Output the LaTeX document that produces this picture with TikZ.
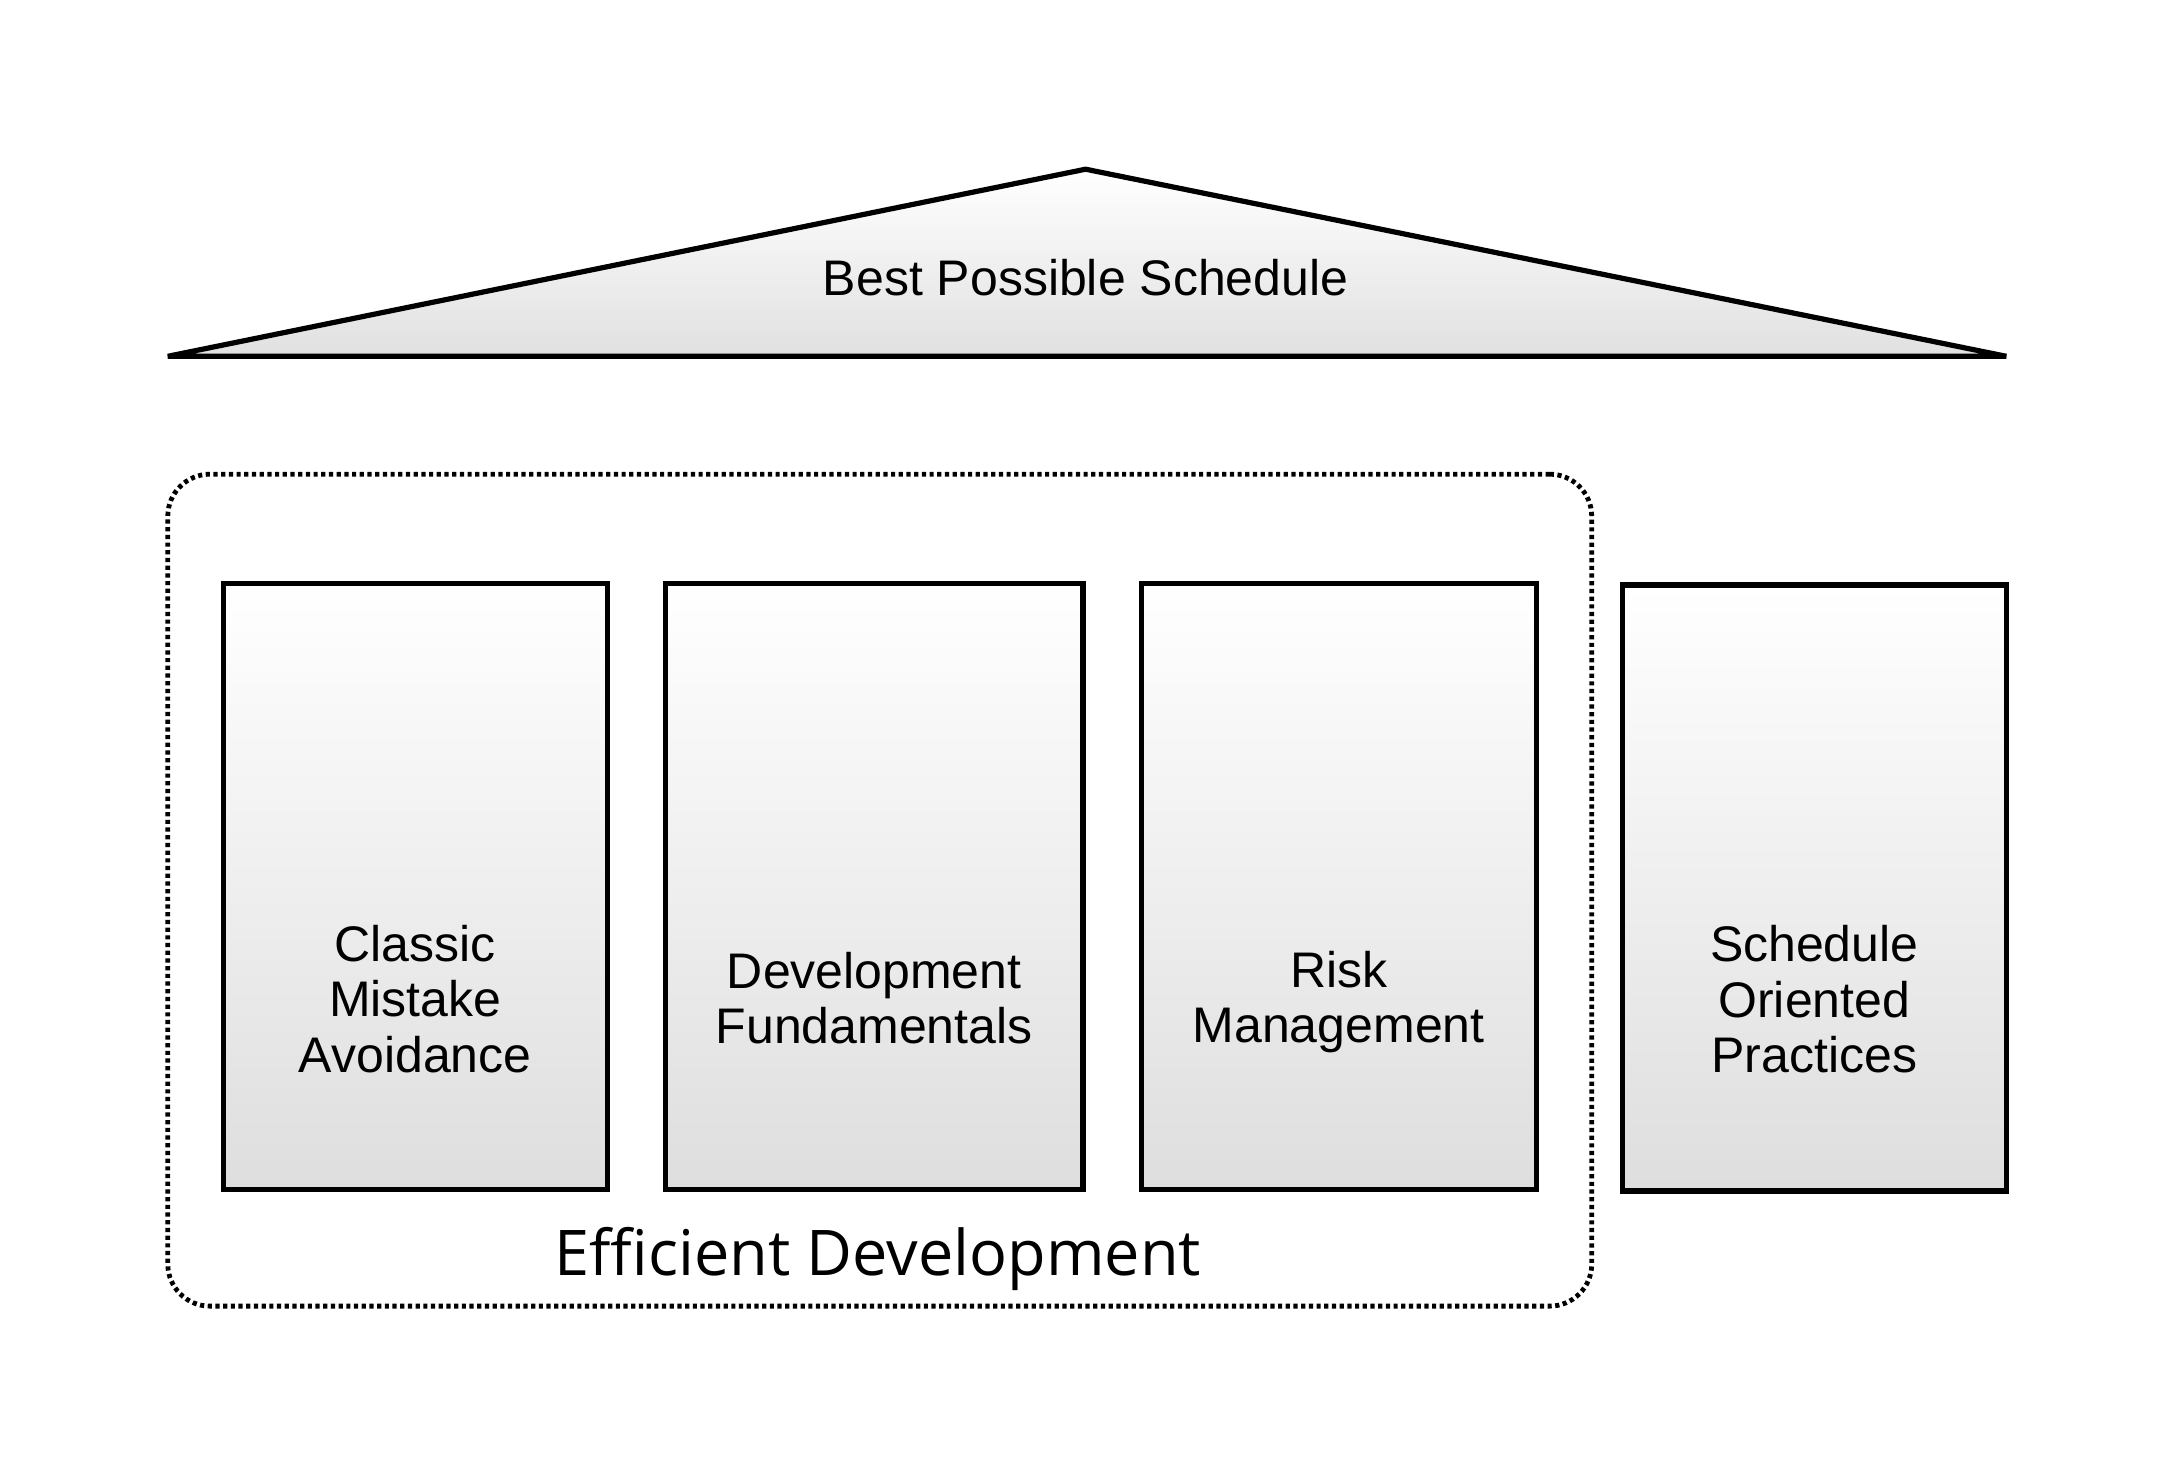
\documentclass[tikz,border=0pt]{standalone}
\usepackage{fontspec}
\setmainfont{Liberation Sans}
\newfontfamily\grpfont{Open Sans}
\begin{document}
\begin{tikzpicture}[x=1pt,y=-1pt,
  pillar/.style={draw=black, line width=5.2pt, top color=white, bottom color=black!13, shading angle=0, inner sep=0pt, minimum width=384.1pt, minimum height=605.9pt},
  lbl/.style={align=center, inner sep=0pt, font=\fontsize{50}{55.5}\selectfont},
  grp/.style={draw=black, line width=4.8pt, dash pattern=on 4.2pt off 3.5pt, rounded corners=42pt, inner sep=0pt}]
\path[use as bounding box] (0,0) rectangle (2174,1474);
% roof
\coordinate (apex) at (1085.6,169.2);
\coordinate (bl) at (167.8,356.3);
\coordinate (br) at (2006.3,356.3);
\draw[line width=5.2pt, line join=bevel, top color=white, bottom color=black!12] (apex) -- (br) -- (bl) -- cycle;
\node[lbl] (roof) at (1085.6,277.3) {Best Possible Schedule};
% group
\node[grp, minimum width=1423.9pt, minimum height=831.9pt] (group) at (879.75,890.15) {};
\node[inner sep=0pt, font=\grpfont\fontsize{63}{66}\selectfont] (grplbl) at (877.7,1259) {Efficient Development};
% pillars
\node[pillar] (b1) at (415.25,886.65) {};
\node[pillar, minimum width=417.4pt] (b2) at (874.2,886.65) {};
\node[pillar, minimum width=395.1pt] (b3) at (1338.65,886.65) {};
\node[pillar] (b4) at (1814.25,888) {};
\node[lbl] (t1) at (415.25,999) {Classic\\Mistake\\Avoidance};
\node[lbl] (t2) at (874.2,998) {Development\\Fundamentals};
\node[lbl] (t3) at (1338.65,1002) {Risk\\Management};
\node[lbl] (t4) at (1814.25,999.6) {Schedule\\Oriented\\Practices};
\end{tikzpicture}
\end{document}
